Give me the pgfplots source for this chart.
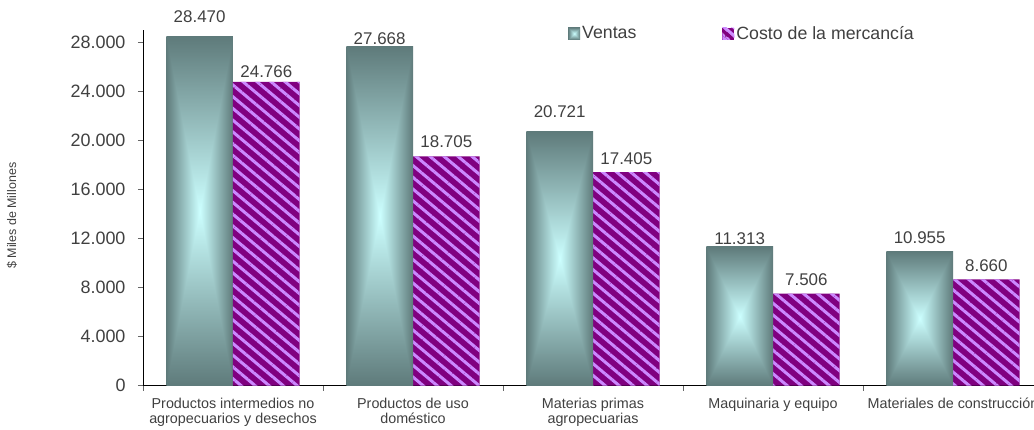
\documentclass[border=0pt]{standalone}
\usepackage{pgfplots}
\pgfplotsset{compat=1.18}
\usepackage{pgfplotstable}
\usepackage{fontspec}
\setmainfont{Liberation Sans}
\usetikzlibrary{patterns.meta}
\definecolor{txt}{HTML}{404040}
\definecolor{purp}{HTML}{800080}
\definecolor{lilac}{HTML}{CC88FF}
\pgfdeclarefunctionalshading{rectgrad}{\pgfpoint{-50bp}{-50bp}}{\pgfpoint{50bp}{50bp}}{}{
  abs exch abs 2 copy lt {exch} if pop 25 div dup 1 gt {pop 1} if
  dup -0.43 mul 0.8 add exch
  dup -0.52 mul 1 add exch
  -0.52 mul 1 add
}
\pgfkeys{/pgf/number format/.cd,1000 sep={.},assume math mode=true}

\pgfplotstableread{
x y
0 24766
1 18705
2 17405
3 7506
4 8660
}\costo

\pgfplotsset{
  ventbar/.style={ybar, bar shift=-33.35bp, draw=none, shading=rectgrad},
  costbar/.style={ybar, bar shift=33.35bp, draw=none, fill=purp,
    postaction={pattern={Lines[angle=-40,distance=9bp,line width=3bp]}, pattern color=lilac}},
  labV/.style={draw=none, mark=none, forget plot,
    nodes near coords, every node near coord/.append style={xshift=-33.35bp, yshift=#1bp}},
  labC/.style={draw=none, mark=none, forget plot,
    nodes near coords, every node near coord/.append style={xshift=33.35bp, yshift=#1bp}},
}

\begin{document}
\begin{tikzpicture}
\begin{axis}[
  scale only axis, width=891bp, height=355.7bp,
  xmin=-0.5, xmax=4.45, ymin=0, ymax=29000,
  clip=false,
  axis x line*=bottom, axis y line*=left,
  axis line style={black, line width=0.8pt},
  scaled y ticks=false,
  ytick={0,4000,...,28000},
  xtick={-0.5,0.5,1.5,2.5,3.5},
  xticklabels={,,,,},
  extra x ticks={0,1,2,3,4},
  extra x tick labels={{Productos intermedios no\\agropecuarios y desechos},{Productos de uso\\dom\'estico},{Materias primas\\agropecuarias},{Maquinaria y equipo},{Materiales de construcci\'on}},
  extra x tick style={major tick length=0pt},
  tick align=outside, major tick length=5bp,
  tick style={black!60, line width=0.6pt},
  yticklabel style={font=\fontsize{18}{20}\selectfont, text=txt, xshift=-9bp},
  xticklabel style={font=\fontsize{14.4}{14.5}\selectfont, text=txt, align=center, yshift=-9bp},
  ylabel={\$ Miles de Millones},
  ylabel style={at={(axis description cs:-0.147,0.478)}, anchor=center, font=\fontsize{12.5}{14}\selectfont, text=txt},
  legend columns=2,
  legend cell align=left,
  legend style={at={(axis description cs:0.477,0.99)}, anchor=west, draw=none, fill=none, inner sep=0pt,
    font=\fontsize{17.8}{19}\selectfont, text=txt,
    /tikz/every even column/.append style={column sep=84bp}},
  bar width=66.7bp,
  nodes near coords style={font=\fontsize{17}{19}\selectfont, text=txt, anchor=south, inner sep=0pt},
]
\addplot[ventbar,
  legend image code/.code={\path[draw=none,shading=rectgrad] (0bp,-6bp) rectangle (12bp,6bp);}]
  coordinates {(0,28470)};
\addlegendentry{Ventas}
\addplot[costbar,
  legend image code/.code={\path[draw=none,fill=purp,postaction={pattern={Lines[angle=-40,distance=6bp,line width=2bp]}, pattern color=lilac}] (0bp,-6bp) rectangle (12bp,6bp);}]
  table[x=x,y=y]{\costo};
\addlegendentry{Costo de la mercancía}
\addplot[ventbar, forget plot] coordinates {(1,27668)};
\addplot[ventbar, forget plot] coordinates {(2,20721)};
\addplot[ventbar, forget plot] coordinates {(3,11313)};
\addplot[ventbar, forget plot] coordinates {(4,10955)};
\addplot[labV=14] coordinates {(0,28470)};
\addplot[labV=1] coordinates {(1,27668)};
\addplot[labV=14] coordinates {(2,20721)};
\addplot[labV=2] coordinates {(3,11313)};
\addplot[labV=7] coordinates {(4,10955)};
\addplot[labC=4.5] coordinates {(0,24766)};
\addplot[labC=8.5] coordinates {(1,18705)};
\addplot[labC=7.5] coordinates {(2,17405)};
\addplot[labC=8] coordinates {(3,7506)};
\addplot[labC=7.5] coordinates {(4,8660)};
\end{axis}
\pgfresetboundingbox
\path[use as bounding box] ([shift={(-143bp,-44.3bp)}]current axis.south west) rectangle ([shift={(891bp,385.7bp)}]current axis.south west);
\end{tikzpicture}
\end{document}
